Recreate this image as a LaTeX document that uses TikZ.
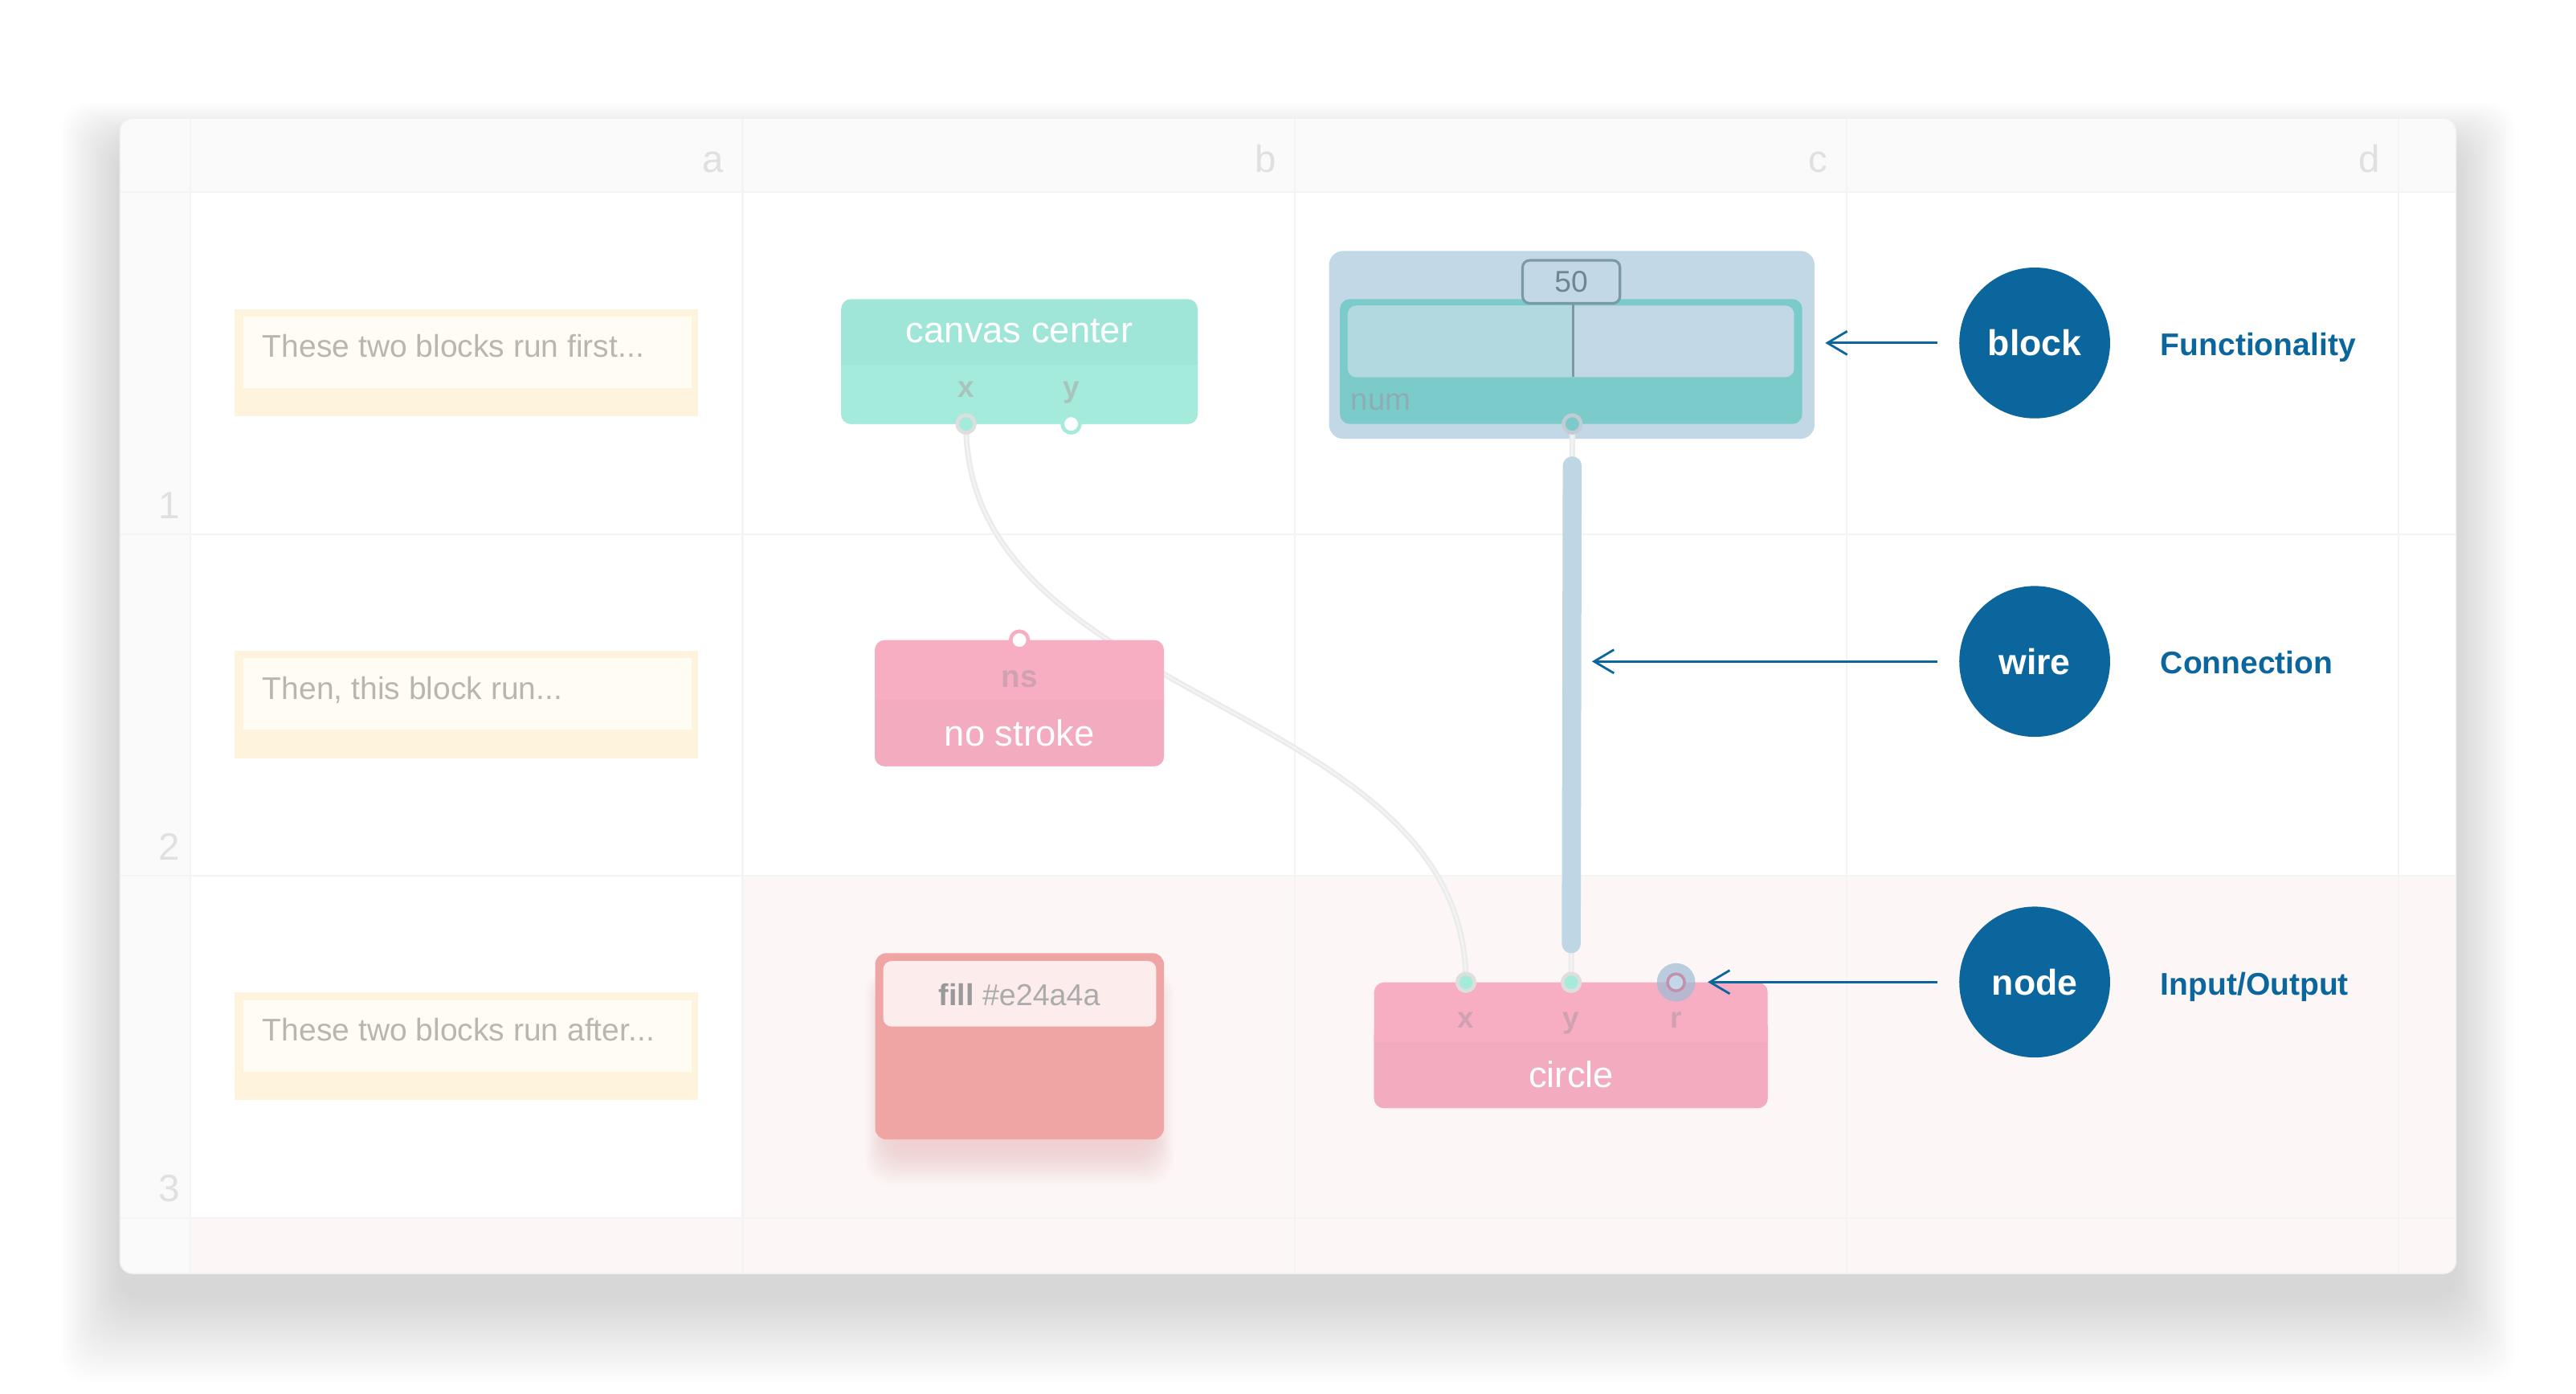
\documentclass[tikz,border=0pt]{standalone}
\usepackage{fontspec}
\setmainfont{Liberation Sans}
\usetikzlibrary{arrows.meta,calc}
\definecolor{cardgrey}{HTML}{FAFAFA}
\definecolor{gridline}{HTML}{F4F4F4}
\definecolor{gridtext}{HTML}{E0E0E0}
\definecolor{rowpink}{HTML}{FDF6F6}
\definecolor{cmtout}{HTML}{FEF3DC}
\definecolor{cmtin}{HTML}{FFFCF4}
\definecolor{cmttext}{HTML}{B9B6AE}
\definecolor{tealtop}{HTML}{A0E6D8}
\definecolor{tealbot}{HTML}{A4EBDC}
\definecolor{teallab}{HTML}{A8C5BD}
\definecolor{numouter}{HTML}{C2D8E6}
\definecolor{numpanel}{HTML}{7CCBCB}
\definecolor{sliderl}{HTML}{B2D8E0}
\definecolor{sliderline}{HTML}{7B98A5}
\definecolor{numtext}{HTML}{6C8792}
\definecolor{numlab}{HTML}{8CADB5}
\definecolor{pinktop}{HTML}{F7AEC3}
\definecolor{pinkbot}{HTML}{F3ABBF}
\definecolor{pinklab}{HTML}{CFA1B1}
\definecolor{fillred}{HTML}{F0A5A5}
\definecolor{fillin}{HTML}{FCECEC}
\definecolor{legblue}{HTML}{0B669D}
\definecolor{wiregrey}{HTML}{EBEBEB}
\definecolor{wirecore}{HTML}{F4F4F4}
\definecolor{wirebarc}{HTML}{BFD6E4}
\definecolor{portring}{HTML}{DEDEDE}
\definecolor{halo}{HTML}{9DBCD6}
\definecolor{rring}{HTML}{C48FAD}
\definecolor{numring}{HTML}{C3CCD2}
\newcommand\myfs[1]{\fontsize{#1}{#1}\selectfont}
\newcommand\twotone[7]{%
  \fill[#6, rounded corners=3.5pt] (#1,#2) rectangle (#3,#4);
  \fill[#7, rounded corners=3.5pt] (#1,#5-10) rectangle (#3,#4);
  \fill[#6] (#1,#5-10) rectangle (#3,#5);
}
\tikzset{
  gridlabel/.style={text=gridtext, font=\myfs{13.5pt}, inner sep=0pt},
  cmttxt/.style={text=cmttext, font=\myfs{11.1pt}, anchor=base west, inner sep=0pt},
  port/.style={circle, inner sep=0pt, minimum size=6.2pt, line width=1.3pt},
  blocktitle/.style={text=white, font=\myfs{12.9pt}, inner sep=0pt, anchor=base},
  portlab/.style={font=\bfseries\myfs{10.5pt}, inner sep=0pt, anchor=base},
  legcircle/.style={circle, fill=legblue, minimum size=53.4pt, inner sep=0pt, text=white, font=\bfseries\myfs{12.7pt}},
  leglabel/.style={text=legblue, font=\bfseries\myfs{11.1pt}, anchor=base west, inner sep=0pt},
  legarrow/.style={draw=legblue, line width=0.8pt, shorten <=7.5pt, -{Straight Barb[length=7pt,width=8.3pt]}},
  wire/.style={draw=wiregrey, line width=2pt},
  wirein/.style={draw=wirecore, line width=0.6pt},
}
\begin{document}
\begin{tikzpicture}[x=0.020453cm,y=-0.020453cm]
\useasboundingbox (0,0) rectangle (1568,848);
\fill[white] (0,0) rectangle (1568,848);
% card shadow
\foreach \i in {1,...,40}{
  \fill[black, opacity=0.0021, rounded corners=10pt] (73-\i*0.9, 90-\i*0.7) rectangle (1495+\i*0.9, 790+\i*1.3);
}
% card
\fill[white, rounded corners=4.5pt] (73,72) rectangle (1495,775);
\begin{scope}
  \clip[rounded corners=4.5pt] (73,72) rectangle (1495,775);
  \fill[cardgrey] (73,72) rectangle (1495,117);
  \fill[cardgrey] (73,117) rectangle (116,775);
  \fill[rowpink] (452,533) rectangle (1495,741);
  \fill[rowpink] (116,741) rectangle (1495,775);
  \foreach \xx in {116,452,788,1124,1460} \draw[gridline, line width=0.6pt] (\xx,72) -- (\xx,775);
  \foreach \yy in {117,325,533,741} \draw[gridline, line width=0.6pt] (73,\yy) -- (1495,\yy);
\end{scope}
\draw[black!6, line width=0.4pt, rounded corners=4.5pt] (73,72) rectangle (1495,775);
% header and row labels
\node[gridlabel, anchor=base east] (ha) at (441,105) {a};
\node[gridlabel, anchor=base east] (hb) at (777,105) {b};
\node[gridlabel, anchor=base east] (hc) at (1113,105) {c};
\node[gridlabel, anchor=base east] (hd) at (1449,105) {d};
\node[gridlabel, anchor=base] (r1) at (103,315.4) {1};
\node[gridlabel, anchor=base] (r2) at (103,523.4) {2};
\node[gridlabel, anchor=base] (r3) at (103,731.4) {3};
% comments
\fill[cmtout] (143,188) rectangle (425,253.5);
\fill[cmtin] (148,192.6) rectangle (420.8,236);
\node[cmttxt] (cm1) at (159.5,217.4) {These two blocks run first...};
\fill[cmtout] (143,396) rectangle (425,461.5);
\fill[cmtin] (148,400.6) rectangle (420.8,444);
\node[cmttxt] (cm2) at (159.5,425.4) {Then, this block run...};
\fill[cmtout] (143,604) rectangle (425,669.5);
\fill[cmtin] (148,608.6) rectangle (420.8,652);
\node[cmttxt] (cm3) at (159.5,633.4) {These two blocks run after...};
% port positions
\coordinate (ccxpt) at (588,258);
\coordinate (ccypt) at (652,258);
\coordinate (nsinpt) at (620.5,389.5);
\coordinate (numpt) at (957,258);
\coordinate (cixpt) at (892.3,597.8);
\coordinate (ciypt) at (956.4,597.8);
\coordinate (cirpt) at (1020.2,597.8);
% canvas center block
\twotone{512}{182}{729}{258}{222}{tealtop}{tealbot}
\node[blocktitle] (cctitle) at (620.5,208.6) {canvas center};
\node[portlab, text=teallab] (ccxl) at (588,242) {x};
\node[portlab, text=teallab] (ccyl) at (652,242) {y};
% number block
\fill[numouter, rounded corners=5pt] (809,152.7) rectangle (1104.5,267);
\fill[numpanel, rounded corners=3.5pt] (815.6,182) rectangle (1097,258);
\fill[numouter, rounded corners=3pt] (820.4,186) rectangle (1092,229.5);
\fill[sliderl, rounded corners=3pt] (820.4,186) rectangle (957.5,229.5);
\fill[sliderl] (945,186) rectangle (957.5,229.5);
\draw[sliderline, line width=0.7pt] (957.5,184) -- (957.5,229.5);
\node[draw=sliderline, fill=numouter, rounded corners=2.5pt, line width=0.9pt, minimum width=34.5pt, minimum height=15.2pt, inner sep=0pt, text=numtext, font=\myfs{10.6pt}] (val) at (956.4,171.5) {50};
\node[anchor=base west, text=numlab, font=\myfs{10.9pt}, inner sep=0pt] (numl) at (822,249.4) {num};
% wires
\draw[wire] (ccxpt) .. controls ($(ccxpt)+(0,172)$) and ($(cixpt)+(0,-172)$) .. (cixpt);
\draw[wirein] (ccxpt) .. controls ($(ccxpt)+(0,172)$) and ($(cixpt)+(0,-172)$) .. (cixpt);
\draw[wire] (numpt) -- (ciypt);
\draw[wirein] (numpt) -- (ciypt);
\draw[wirebarc, line width=6.7pt, line cap=round] ($(numpt)+(0,25.5)$) -- ($(ciypt)+(0,-23.5)$);
% no stroke block
\twotone{532.5}{389.5}{708.5}{466.3}{426}{pinktop}{pinkbot}
\node[portlab, text=pinklab, font=\bfseries\myfs{11pt}] (nsl) at (620.5,418.5) {ns};
\node[blocktitle] (nstitle) at (620.5,453.9) {no stroke};
% fill block
\foreach \i in {1,...,22}{
  \fill[fillred, opacity=0.018, rounded corners=9pt] (542-\i*0.7, 600-\i*0.5) rectangle (699+\i*0.7, 697+\i*1.1);
}
\fill[fillred, rounded corners=4pt] (532.7,580) rectangle (708.5,693.4);
\fill[fillin, rounded corners=3pt] (537.6,584.8) rectangle (703.8,624.7);
\node[anchor=base, inner sep=0pt, font=\myfs{10.7pt}] (filltxt) at (620.5,612) {\textcolor[HTML]{999999}{\bfseries fill} \textcolor[HTML]{ABABAB}{\#e24a4a}};
% circle block
\twotone{836.4}{597.8}{1076}{674.3}{634}{pinktop}{pinkbot}
\node[portlab, text=pinklab] (cixl) at (892.3,625.8) {x};
\node[portlab, text=pinklab] (ciyl) at (956.4,625.8) {y};
\node[portlab, text=pinklab] (cirl) at (1020.2,625.8) {r};
\node[blocktitle] (cititle) at (956.4,661.6) {circle};
% ports
\node[port, fill=tealbot, draw=portring] (ccx) at (ccxpt) {};
\node[port, fill=white, draw=tealbot] (ccy) at (ccypt) {};
\node[port, fill=white, draw=pinktop] (nsin) at (nsinpt) {};
\node[port, fill=numpanel, draw=numring] (numo) at (numpt) {};
\node[port, fill=tealbot, draw=portring] (cix) at (cixpt) {};
\node[port, fill=tealbot, draw=portring] (ciy) at (ciypt) {};
\node[circle, fill=halo, opacity=0.7, minimum size=13.6pt, inner sep=0pt] (rhalo) at (cirpt) {};
\node[port, fill=numouter, draw=rring, line width=1pt, minimum size=6pt] (cir) at (cirpt) {};
% legend
\node[legcircle] (legblock) at (1238.5,208.7) {block};
\node[legcircle] (legwire) at (1238.5,402.5) {wire};
\node[legcircle] (legnode) at (1238.5,597.6) {node};
\node[leglabel] (labf) at (1314.8,216.3) {Functionality};
\node[leglabel] (labc) at (1314.8,410) {Connection};
\node[leglabel] (labi) at (1314.8,605.3) {Input/Output};
\coordinate (tipblock) at (1111,208.7);
\coordinate (tipwire) at (969,402.5);
\coordinate (tipnode) at (1039.5,597.6);
\draw[legarrow] (legblock.west) -- (tipblock);
\draw[legarrow] (legwire.west) -- (tipwire);
\draw[legarrow] (legnode.west) -- (tipnode);
\end{tikzpicture}
\end{document}
